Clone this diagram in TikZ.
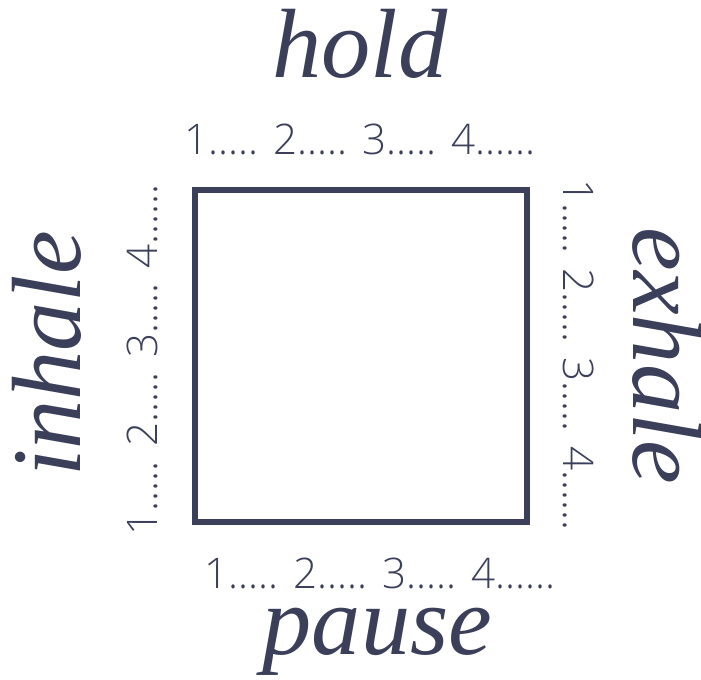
\documentclass[tikz,border=0pt]{standalone}
\usepackage{fontspec}
\setmainfont{Liberation Serif}
\newfontfamily\countfont{Open Sans}[UprightFont=* Light]
\usepackage{tikz}
\usetikzlibrary{positioning}
\definecolor{ink}{RGB}{59,63,90}

\begin{document}
\begin{tikzpicture}[
    phase/.style={
        text=ink,
        anchor=base,
        inner sep=0pt,
        font=\fontsize{56}{60}\selectfont\itshape
    },
    count/.style={
        text=ink,
        anchor=base,
        inner sep=0pt,
        font=\fontsize{24}{27}\selectfont\countfont
    },
    boxline/.style={
        draw=ink,
        line width=3.2pt
    }
]
\useasboundingbox (0,0) rectangle (14.02,13.6);

% Nodes
\coordinate (sw) at (3.9,3.16);
\coordinate (ne) at (10.54,9.8);
\node (hold) [phase] at (7.2,12.04) {hold};
\node (holdcount) [count] at (7.2,10.5) {1..... 2..... 3..... 4......};
\node (pausecount) [count] at (7.6,1.82) {1..... 2..... 3..... 4......};
\node (pause) [phase] at (7.55,0.5) {pause};
\node (inhale) [phase, rotate=90] at (1.6,6.52) {inhale};
\node (inhalecount) [count, rotate=90] at (3.14,6.4) {1..... 2..... 3..... 4......};
\node (exhalecount) [count, rotate=-90] at (11.26,6.5) {1..... 2..... 3..... 4......};
\node (exhale) [phase, rotate=-90] at (12.66,6.48) {exhale};

% Paths
\draw [boxline] (sw) rectangle (ne);

\end{tikzpicture}
\end{document}
